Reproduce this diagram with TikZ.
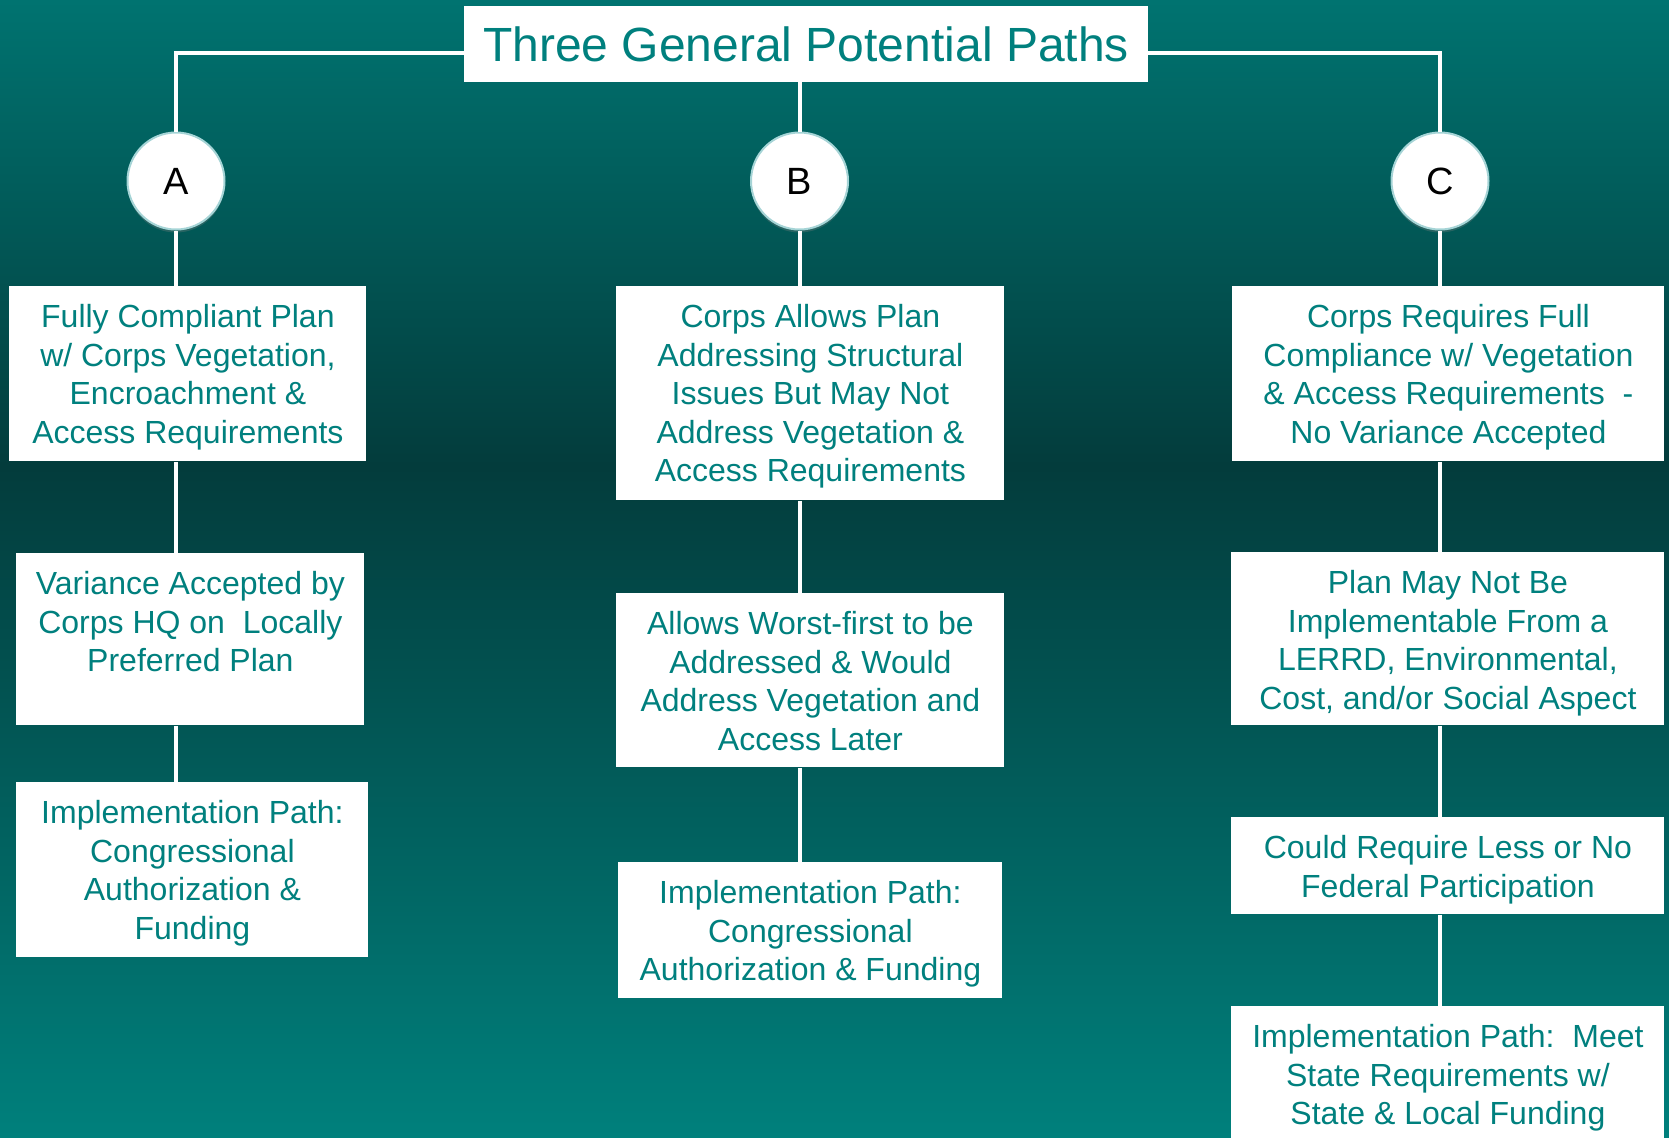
\documentclass[tikz,border=0pt]{standalone}
\usepackage{fontspec}
\setmainfont{Liberation Sans}
\usetikzlibrary{shadows}

\definecolor{pathteal}{RGB}{0,128,126}
\definecolor{bgtop}{RGB}{0,115,112}
\definecolor{bgmid}{RGB}{3,60,60}
\definecolor{bgbot}{RGB}{0,128,124}
\definecolor{ringblue}{RGB}{165,212,214}
\pgfdeclareverticalshading{bgfade}{100bp}{color(0bp)=(bgbot); color(25bp)=(bgbot); color(54.5bp)=(bgmid); color(75bp)=(bgtop); color(100bp)=(bgtop)}
\newcommand{\pathtext}[3]{\parbox[t][#2][t]{#1}{\centering\rule{0pt}{20.5pt}#3}}

\tikzset{
  pathbox/.style={fill=white, inner sep=0pt, anchor=north west, text=pathteal,
    font=\fontsize{16}{19.3}\selectfont},
  titlebox/.style={fill=white, inner sep=0pt, text=pathteal, minimum width=342pt,
    minimum height=38pt, font=\fontsize{24}{28}\selectfont},
  letter/.style={circle, fill=white, draw=ringblue, line width=1pt, minimum size=48.5pt,
    inner sep=0pt, font=\fontsize{19}{22}\selectfont,
    drop shadow={shadow xshift=0pt, shadow yshift=-1.5pt, opacity=0.3}},
  link/.style={draw=white, line width=2pt}
}

\begin{document}
\begin{tikzpicture}[x=0.5pt, y=-0.5pt]

\shade[shading=bgfade] (0,0) rectangle (1669,1137);
\useasboundingbox (0,0) rectangle (1669,1137);

% title and the three letters
\node[titlebox] (title) at (806,44) {\raisebox{-1pt}{Three General Potential Paths}};
\node[letter] (cA) at (176,181) {A};
\node[letter] (cB) at (799.5,181) {B};
\node[letter] (cC) at (1440,181) {C};
\coordinate (jA) at (176,53);
\coordinate (jC) at (1440,53);

% path A
\node[pathbox] (A1) at (9,286) {\pathtext{178.5pt}{87.5pt}{Fully Compliant Plan\\ w/ Corps Vegetation,\\ Encroachment \&\\ Access Requirements}};
\node[pathbox] (A2) at (16,553) {\pathtext{174pt}{86pt}{Variance Accepted by\\ Corps HQ on\ \ Locally\\ Preferred Plan}};
\node[pathbox] (A3) at (16,782) {\pathtext{176pt}{87.5pt}{Implementation Path:\\ Congressional\\ Authorization \&\\ Funding}};

% path B
\node[pathbox] (B1) at (616,286) {\pathtext{194pt}{107pt}{Corps Allows Plan\\ Addressing Structural\\ Issues But May Not\\ Address Vegetation \&\\ Access Requirements}};
\node[pathbox] (B2) at (616,593) {\pathtext{194pt}{87pt}{Allows Worst-first to be\\ Addressed \& Would\\ Address Vegetation and\\ Access Later}};
\node[pathbox] (B3) at (618,862) {\pathtext{192pt}{68pt}{Implementation Path:\\ Congressional\\ Authorization \& Funding}};

% path C
\node[pathbox] (C1) at (1232,286) {\pathtext{216pt}{87.5pt}{Corps Requires Full\\ Compliance w/ Vegetation\\ \& Access Requirements\ \ -\\ No Variance Accepted}};
\node[pathbox] (C2) at (1231,552) {\pathtext{216.5pt}{86.5pt}{Plan May Not Be\\ Implementable From a\\ LERRD, Environmental,\\ Cost, and/or Social Aspect}};
\node[pathbox] (C3) at (1231,817) {\pathtext{216.5pt}{48.5pt}{Could Require Less or No\\ Federal Participation}};
\node[pathbox] (C4) at (1231,1006) {\pathtext{216.5pt}{75pt}{Implementation Path:\ \ Meet\\ State Requirements w/\\ State \& Local Funding}};

% connectors
\draw[link] (cA.north) -- (jA) -- (jA -| title.west);
\draw[link] (cC.north) -- (jC) -- (jC -| title.east);
\draw[link] (title.south -| cB) -- (cB.north);

\draw[link] (cA.south) -- (cA |- A1.north);
\draw[link] (A1.south -| cA) -- (A2.north -| cA);
\draw[link] (A2.south -| cA) -- (A3.north -| cA);

\draw[link] (cB.south) -- (cB |- B1.north);
\draw[link] (B1.south -| cB) -- (B2.north -| cB);
\draw[link] (B2.south -| cB) -- (B3.north -| cB);

\draw[link] (cC.south) -- (cC |- C1.north);
\draw[link] (C1.south -| cC) -- (C2.north -| cC);
\draw[link] (C2.south -| cC) -- (C3.north -| cC);
\draw[link] (C3.south -| cC) -- (C4.north -| cC);

\end{tikzpicture}
\end{document}
